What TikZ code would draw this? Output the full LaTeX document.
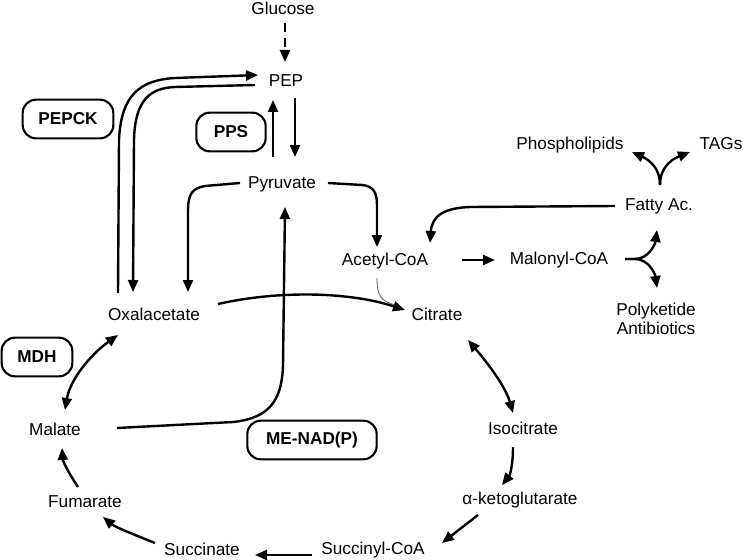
\documentclass[tikz,border=0pt]{standalone}
\usepackage{fontspec}
\setmainfont{Liberation Sans}
\usetikzlibrary{arrows.meta,calc}

\tikzset{every picture/.style={line width=1.8pt}}
\tikzset{>={Triangle[length=9pt,width=7.5pt]}}
\tikzset{met/.style={font=\fontsize{12.9}{14.3}\selectfont, inner sep=0pt, text height=9.2pt, text depth=0pt}}
\tikzset{enz/.style={draw, line width=1.6pt, rounded corners=10pt, font=\fontsize{12.9}{14.3}\selectfont\bfseries, minimum height=29pt, inner sep=0pt}}

\begin{document}
\begin{tikzpicture}[x=0.75pt,y=0.75pt,yscale=-1,xscale=1]
\useasboundingbox (0,0) rectangle (743,560);

% metabolites
\node [met] (glu) at (283,8) {Glucose};
\node [met] (pep) at (286,80) {PEP};
\node [met] (pyr) at (282,182) {Pyruvate};
\node [met] (acoa) at (385,259) {Acetyl-CoA};
\node [met] (mcoa) at (559,258) {Malonyl-CoA};
\node [met] (fatty) at (659,204) {Fatty Ac.};
\node [met] (phos) at (570,143) {Phospholipids};
\node [met] (tags) at (721,143) {TAGs};
\node [font=\fontsize{12.9}{14.3}\selectfont, inner sep=0pt, align=center] (poly) at (656,319) {Polyketide\\Antibiotics};
\node [met] (oxal) at (154,314) {Oxalacetate};
\node [met] (cit) at (437,314) {Citrate};
\node [met] (isoc) at (523,428) {Isocitrate};
\node [met] (akg) at (520,498) {α-ketoglutarate};
\node [met] (scoa) at (373,548) {Succinyl-CoA};
\node [met] (succ) at (202,549) {Succinate};
\node [met] (fum) at (85,501) {Fumarate};
\node [met] (mal) at (55,429) {Malate};

% enzymes
\node [enz, minimum width=68pt] (pepck) at (68,119) {PEPCK};
\node [enz, minimum width=52pt] (pps) at (231,132) {PPS};
\node [enz, minimum width=53pt] (mdh) at (37,357) {MDH};
\node [enz, minimum width=97pt] (me) at (312,440) {ME-NAD(P)};

% glycolysis / gluconeogenesis
\draw [->, dash pattern=on 7pt off 4pt] ($(glu)+(2,15)$) -- ($(pep)+(-1,-18)$);
\draw [->] ($(pyr)+(-9,-25)$) -- ($(pep)+(-13,20)$);
\draw [->] ($(pep)+(9,18)$) -- ($(pyr)+(13,-25)$);
\draw [->] ($(oxal)+(-36,-21)$) -- (119,140) .. controls (121,95) and (140,80) .. (175,78) -- ($(pep)+(-28,-5)$);
\draw [->] ($(pep)+(-31,5)$) -- (175,87) .. controls (150,88) and (135,100) .. (134,140) -- ($(oxal)+(-21,-22)$);
\draw [->] ($(pyr)+(-42,1)$) -- (205,186) .. controls (192,188) and (188,195) .. (188,210) -- ($(oxal)+(34,-22)$);
\draw [->] ($(pyr)+(46,1)$) -- (362,185) .. controls (373,186) and (377,192) .. (377,205) -- ($(acoa)+(-8,-12)$);
\draw [->] ($(mal)+(62,-1)$) -- (233,422) .. controls (270,418) and (282,400) .. (283,365) -- ($(pyr)+(3,25)$);

% lipids
\draw [->] ($(acoa)+(77,1)$) -- ($(mcoa)+(-64,2)$);
\draw [->] ($(fatty)+(-44,2)$) -- (470,207) .. controls (445,208) and (432,215) .. ($(acoa)+(45,-16)$);
\draw [->] ($(fatty)+(1,-19)$) .. controls (660,165) and (645,158) .. ($(phos)+(62,9)$);
\draw [->] ($(fatty)+(1,-19)$) .. controls (660,165) and (675,158) .. ($(tags)+(-31,9)$);
\draw [->] ($(mcoa)+(66,1)$) -- (635,259) .. controls (648,259) and (655,245) .. ($(fatty)+(-2,26)$);
\draw [->] ($(mcoa)+(66,1)$) -- (635,259) .. controls (648,259) and (655,273) .. ($(poly)+(1,-31)$);

% TCA cycle
\draw [->] ($(oxal)+(64,-10)$) .. controls (280,290) and (350,292) .. ($(cit)+(-32,-4)$);
\draw [black!65, line width=0.6pt] ($(acoa)+(-8,19)$) .. controls (377,296) and (381,301) .. ($(cit)+(-42,-9)$);
\draw [<->] ($(cit)+(31,26)$) .. controls (485,360) and (505,385) .. ($(isoc)+(-10,-15)$);
\draw [->] ($(isoc)+(-10,19)$) .. controls (513,465) and (510,475) .. ($(akg)+(-18,-13)$);
\draw [->] ($(akg)+(-42,17)$) -- ($(scoa)+(69,-5)$);
\draw [->] ($(scoa)+(-61,7)$) -- ($(succ)+(53,6)$);
\draw [->] ($(succ)+(-47,-6)$) .. controls (135,535) and (115,527) .. ($(fum)+(18,16)$);
\draw [->] ($(fum)+(-7,-14)$) .. controls (70,475) and (63,462) .. ($(mal)+(7,19)$);
\draw [<->] ($(mal)+(10,-19)$) .. controls (70,380) and (90,355) .. ($(oxal)+(-36,21)$);

\end{tikzpicture}
\end{document}
